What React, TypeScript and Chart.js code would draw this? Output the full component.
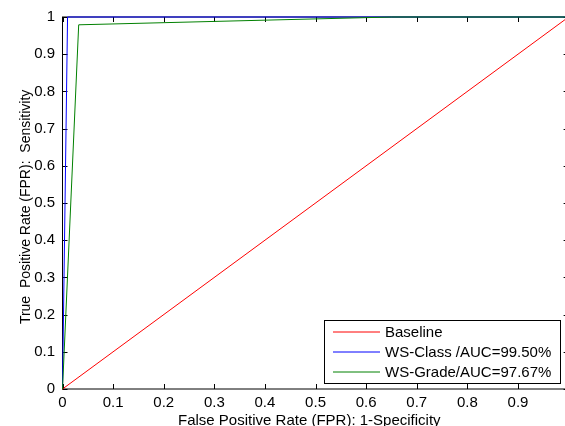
import React, { useEffect, useRef } from "react";
import { Chart, registerables } from "chart.js";

Chart.register(...registerables);

const baselineFPR = [0, 1];
const baselineTPR = [0, 1];
const classFPR = [0, 0.01, 1];
const classTPR = [0, 1, 1];
const gradeFPR = [0, 0.032, 0.65, 1];
const gradeTPR = [0, 0.979, 1, 1];

const seriesNames = ["Baseline", "WS-Class /AUC=99.50%", "WS-Grade/AUC=97.67%"];
const seriesColors = ["#ff0000", "#0000ff", "#008000"];

const xTickValues = [0, 0.1, 0.2, 0.3, 0.4, 0.5, 0.6, 0.7, 0.8, 0.9];
const xTickLabels = ["0", "0.1", "0.2", "0.3", "0.4", "0.5", "0.6", "0.7", "0.8", "0.9"];
const yTickValues = [0, 0.1, 0.2, 0.3, 0.4, 0.5, 0.6, 0.7, 0.8, 0.9, 1];
const yTickLabels = ["0", "0.1", "0.2", "0.3", "0.4", "0.5", "0.6", "0.7", "0.8", "0.9", "1"];

const xTitle = "False Positive Rate (FPR): 1-Specificity";
const yTitle = "True  Positive Rate (FPR):  Sensitivity";

const FONT = "'Liberation Sans', Arial, sans-serif";

const toPoints = (xs: number[], ys: number[]) => xs.map((x, i) => ({ x, y: ys[i] }));

const boxTicksPlugin = {
  id: "boxTicks",
  beforeDatasetsDraw(chart: any) {
    const { ctx, chartArea, scales } = chart;
    const { left, right, top, bottom } = chartArea;
    ctx.save();
    ctx.strokeStyle = "#000";
    ctx.lineWidth = 1;
    ctx.strokeRect(left, top, right - left, bottom - top);
    const L = 5;
    ctx.beginPath();
    for (const v of xTickValues) {
      const px = Math.round(scales.x.getPixelForValue(v)) + 0.5;
      ctx.moveTo(px, bottom);
      ctx.lineTo(px, bottom - L);
      ctx.moveTo(px, top);
      ctx.lineTo(px, top + L);
    }
    for (const v of yTickValues) {
      const py = Math.round(scales.y.getPixelForValue(v)) + 0.5;
      ctx.moveTo(left, py);
      ctx.lineTo(left + L, py);
      ctx.moveTo(right, py);
      ctx.lineTo(right - L, py);
    }
    ctx.stroke();
    ctx.restore();
  },
};

const boxLegendPlugin = {
  id: "boxLegend",
  afterDraw(chart: any) {
    const { ctx } = chart;
    const bx = 324.5, by = 320.5, bw = 236, bh = 63;
    ctx.save();
    ctx.fillStyle = "#fff";
    ctx.fillRect(bx, by, bw, bh);
    ctx.strokeStyle = "#000";
    ctx.lineWidth = 1;
    ctx.strokeRect(bx, by, bw, bh);
    ctx.font = `15px ${FONT}`;
    ctx.textBaseline = "middle";
    ctx.textAlign = "left";
    chart.data.datasets.forEach((ds: any, i: number) => {
      const cy = by + 11.5 + i * 20;
      ctx.strokeStyle = ds.borderColor;
      ctx.beginPath();
      ctx.moveTo(333, cy);
      ctx.lineTo(380, cy);
      ctx.stroke();
      ctx.fillStyle = "#000";
      ctx.fillText(ds.label, 385, cy + 0.5);
    });
    ctx.restore();
  },
};

export default function App() {
  const ref = useRef<HTMLCanvasElement>(null);

  useEffect(() => {
    document.body.style.margin = "0";
    const canvas = ref.current!;
    const chart = new Chart(canvas, {
      type: "scatter",
      data: {
        datasets: [
          { label: seriesNames[0], data: toPoints(baselineFPR, baselineTPR), order: 2 },
          { label: seriesNames[1], data: toPoints(classFPR, classTPR), order: 1 },
          { label: seriesNames[2], data: toPoints(gradeFPR, gradeTPR), order: 0 },
        ].map((d, i) => ({
          ...d,
          showLine: true,
          borderColor: seriesColors[i],
          backgroundColor: seriesColors[i],
          borderWidth: 1,
          pointRadius: 0,
          pointHoverRadius: 0,
          tension: 0,
          clip: false as any,
        })),
      },
      options: {
        animation: false,
        responsive: false,
        devicePixelRatio: 1,
        events: [],
        layout: { padding: { top: 17, right: 6.4, left: 0, bottom: 0 } },
        plugins: {
          legend: { display: false },
          tooltip: { enabled: false },
        },
        scales: {
          x: {
            type: "linear",
            min: 0,
            max: 1,
            afterBuildTicks: (s: any) => {
              s.ticks = xTickValues.map((v) => ({ value: v }));
            },
            afterFit: (s: any) => {
              s.height = 43;
            },
            grid: { display: false, drawTicks: false },
            border: { display: false },
            ticks: {
              padding: 5,
              maxRotation: 0,
              autoSkip: false,
              color: "#000",
              font: { family: FONT, size: 15 },
              callback: (_v: any, i: number) => xTickLabels[i],
            },
            title: {
              display: true,
              text: xTitle + "   ",
              color: "#000",
              font: { family: FONT, size: 15 },
              padding: { top: 0, bottom: 2 },
            },
          },
          y: {
            type: "linear",
            min: 0,
            max: 1,
            afterBuildTicks: (s: any) => {
              s.ticks = yTickValues.map((v) => ({ value: v }));
            },
            afterFit: (s: any) => {
              s.width = 62.5;
            },
            grid: { display: false, drawTicks: false },
            border: { display: false },
            ticks: {
              padding: 7.5,
              autoSkip: false,
              color: "#000",
              font: { family: FONT, size: 15 },
              callback: (_v: any, i: number) => yTickLabels[i],
            },
            title: {
              display: true,
              text: yTitle + "  ",
              color: "#000",
              font: { family: FONT, size: 14 },
              padding: { top: 17.5, bottom: 0 },
            },
          },
        },
      },
      plugins: [boxTicksPlugin, boxLegendPlugin],
    });
    return () => chart.destroy();
  }, []);

  return (
    <div
      style={{
        position: "absolute",
        left: 0,
        top: 0,
        width: 565,
        height: 426,
        overflow: "hidden",
        background: "#fff",
      }}
    >
      <canvas ref={ref} width={575} height={432} style={{ width: 575, height: 432, display: "block" }} />
    </div>
  );
}
